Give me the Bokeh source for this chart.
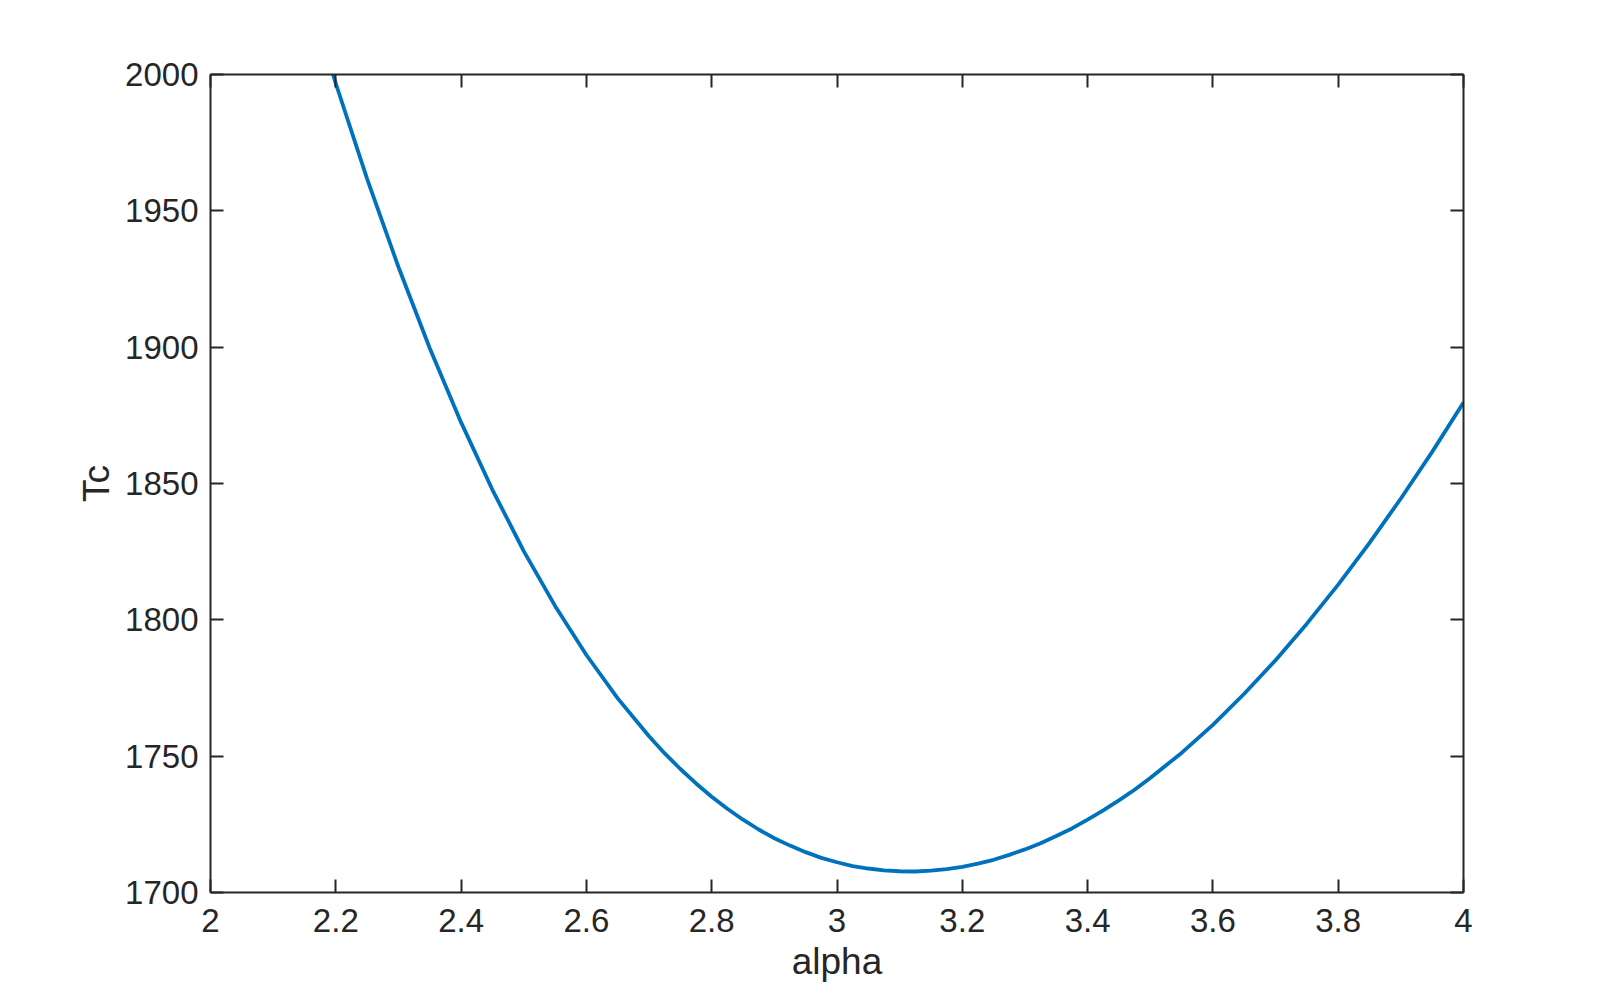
from bokeh.plotting import figure
from bokeh.models import FixedTicker, LinearAxis, Range1d
from bokeh.embed import file_html
from bokeh.resources import INLINE

# ---- data ----
alpha = [2.15, 2.20, 2.25, 2.30, 2.35, 2.40, 2.45, 2.50, 2.55, 2.60,
         2.65, 2.70, 2.725, 2.75, 2.775, 2.80, 2.825, 2.85, 2.875, 2.90,
         2.925, 2.95, 2.975, 3.00, 3.025, 3.05, 3.075, 3.10, 3.125, 3.15,
         3.175, 3.20, 3.225, 3.25, 3.275, 3.30, 3.325, 3.35, 3.375, 3.40,
         3.425, 3.45, 3.475, 3.50, 3.55, 3.60, 3.65, 3.70, 3.75, 3.80,
         3.85, 3.90, 3.95, 4.00]
Tc = [2034.5, 1996.7, 1961.7, 1929.4, 1899.6, 1872.4, 1847.7, 1825.2, 1805.1, 1787.1,
      1771.2, 1757.3, 1751.0, 1745.3, 1740.0, 1735.1, 1730.7, 1726.7, 1723.1, 1719.9,
      1717.2, 1714.8, 1712.7, 1711.1, 1709.7, 1708.8, 1708.1, 1707.8, 1707.7, 1708.0,
      1708.6, 1709.4, 1710.6, 1712.0, 1713.8, 1715.8, 1718.1, 1720.7, 1723.5, 1726.7,
      1730.1, 1733.8, 1737.7, 1742.0, 1751.2, 1761.5, 1772.9, 1785.2, 1798.6, 1812.9,
      1828.2, 1844.5, 1861.6, 1879.7]

x_ticks = [2.0, 2.2, 2.4, 2.6, 2.8, 3.0, 3.2, 3.4, 3.6, 3.8, 4.0]
x_tick_labels = ["2", "2.2", "2.4", "2.6", "2.8", "3", "3.2", "3.4", "3.6", "3.8", "4"]
y_ticks = [1700, 1750, 1800, 1850, 1900, 1950, 2000]
y_tick_labels = ["1700", "1750", "1800", "1850", "1900", "1950", "2000"]
x_label = "alpha"
y_label = "Tc"

AX = "#262626"
FONT = "Liberation Sans"

p = figure(frame_width=1253, frame_height=818,
           min_border_left=210, min_border_right=130,
           min_border_top=74, min_border_bottom=96,
           x_range=Range1d(2, 4), y_range=Range1d(1700, 2000),
           output_backend="svg", toolbar_location=None,
           x_axis_label=x_label, y_axis_label=y_label)

p.line(alpha, Tc, line_color="#0072BD", line_width=3.8, line_join="round")

p.grid.visible = False
p.outline_line_color = None
p.background_fill_color = "white"
p.border_fill_color = "white"

def style(ax, ticks, labels, show):
    ax.ticker = FixedTicker(ticks=ticks)
    ax.major_label_overrides = {t: l for t, l in zip(ticks, labels)}
    ax.axis_line_color = AX
    ax.axis_line_width = 2
    ax.major_tick_line_color = AX
    ax.major_tick_line_width = 2
    ax.major_tick_in = 13
    ax.major_tick_out = 0
    ax.minor_tick_line_color = None
    ax.major_label_text_font = FONT
    ax.major_label_text_font_size = "33px"
    ax.major_label_text_color = AX if show else None
    ax.axis_label_text_font = FONT
    ax.axis_label_text_font_size = "37px"
    ax.axis_label_text_font_style = "normal"
    ax.axis_label_text_color = AX

xa = p.xaxis[0]
ya = p.yaxis[0]
style(xa, x_ticks, x_tick_labels, True)
style(ya, y_ticks, y_tick_labels, True)
xa.major_label_standoff = 16
ya.major_label_standoff = 12
xa.axis_label_standoff = 6
ya.axis_label_standoff = 5

top = LinearAxis()
style(top, x_ticks, x_tick_labels, False)
p.add_layout(top, "above")
right = LinearAxis()
style(right, y_ticks, y_tick_labels, False)
p.add_layout(right, "right")

open("out.html", "w").write(file_html(p, INLINE))
